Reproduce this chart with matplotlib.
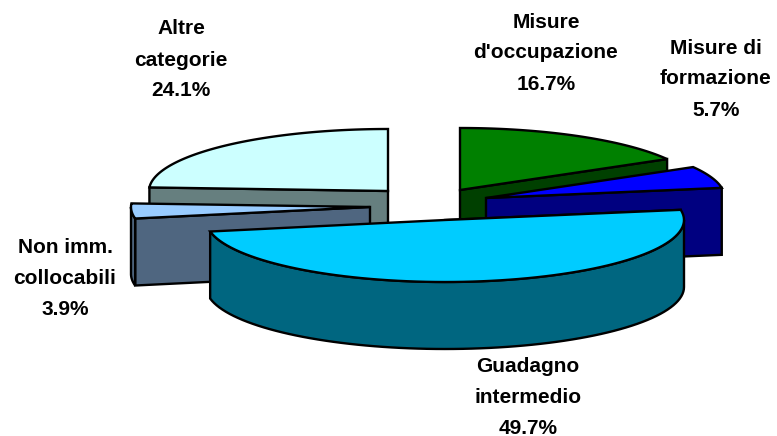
import numpy as np
import matplotlib
matplotlib.use('Agg')
import matplotlib.pyplot as plt

plt.rcParams['font.family'] = ['Liberation Sans', 'DejaVu Sans']

# clockwise from 12 o'clock
labels = ["Misure\nd'occupazione", "Misure di\nformazione", "Guadagno\nintermedio",
          "Non imm.\ncollocabili", "Altre\ncategorie"]
values = [16.7, 5.7, 49.7, 3.9, 24.1]

top_colors = ['#008000', '#0000ff', '#00ccff', '#99ccff', '#ccffff']
side_colors = ['#004000', '#000080', '#006680', '#4f6680', '#667f7f']

# exploded centres in pixels, text centres
centres = [(460, 190), (486, 198), (445, 220), (370, 207), (388, 191)]
label_pos = [(546, 53), (716, 79), (528, 397), (65, 278), (181, 60)]
draw_order = [4, 0, 1, 3, 2]

rx, ry, depth = 239, 62, 67
lw = 1.7

fig = plt.figure(figsize=(7.77, 4.36), dpi=100)
ax = fig.add_axes([0, 0, 1, 1])
ax.set_xlim(0, 777)
ax.set_ylim(436, 0)
ax.axis('off')


def rim(cx, cy, a, b):
    t = np.radians(np.linspace(a, b, 80))
    return cx + rx * np.sin(t), cy - ry * np.cos(t)


edges = np.concatenate([[0], np.cumsum(values)]) / sum(values) * 360

z = 1
for i in draw_order:
    cx, cy = centres[i]
    a, b = edges[i], edges[i + 1]
    xs, ys = rim(cx, cy, a, b)

    # cut face towards the viewer
    k = -1 if b < 180 else 0
    ax.fill([cx, xs[k], xs[k], cx], [cy, ys[k], ys[k] + depth, cy + depth],
            fc=side_colors[i], ec='k', lw=lw, zorder=z, joinstyle='miter')

    # outer wall, front half only
    lo, hi = max(a, 90), min(b, 270)
    if lo < hi:
        rxs, rys = rim(cx, cy, lo, hi)
        ax.fill(np.r_[rxs, rxs[::-1]], np.r_[rys, rys[::-1] + depth],
                fc=side_colors[i], ec='k', lw=lw, zorder=z, joinstyle='miter')

    ax.fill(np.r_[cx, xs], np.r_[cy, ys], fc=top_colors[i], ec='k', lw=lw,
            zorder=z, joinstyle='miter')
    z += 1

for lab, val, (x, y) in zip(labels, values, label_pos):
    ax.text(x, y, f"{lab}\n{val}%", ha='center', va='center', fontsize=15,
            fontweight='bold', linespacing=1.8, zorder=10)

plt.savefig('out.png', dpi=100)
